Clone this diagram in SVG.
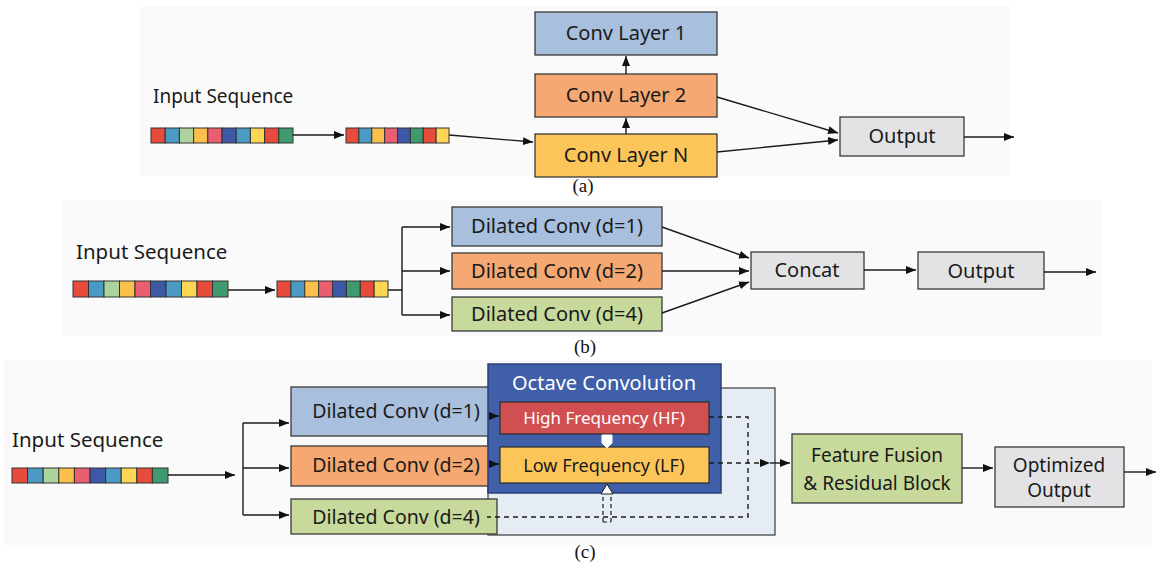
<svg xmlns="http://www.w3.org/2000/svg" width="1156" height="562" viewBox="0 0 1156 562">
  <defs>
    <marker id="arrow" viewBox="0 0 10 8" refX="10" refY="4" markerWidth="10" markerHeight="8" markerUnits="userSpaceOnUse" orient="auto">
      <path d="M0,0 L10,4 L0,8 Z" fill="#111"/>
    </marker>
    <style>
      .box { stroke: #3a3a3a; stroke-width: 1.3; }
      .blue { fill: #a8bfdd; }
      .orange { fill: #f5a872; }
      .yellow { fill: #fcc55a; }
      .green { fill: #c7d99b; }
      .grey { fill: #e3e3e6; }
      .label { font-family: "Noto Sans", "Open Sans", sans-serif; fill: #1a1a1a; text-anchor: middle; }
      .title { font-family: "Noto Sans", "Open Sans", sans-serif; fill: #1a1a1a; }
      .cap { font-family: "Liberation Serif", serif; font-size: 19px; fill: #111; text-anchor: middle; }
      .link { fill: none; stroke: #1a1a1a; stroke-width: 1.4; }
      .dash { fill: none; stroke: #1a1a1a; stroke-width: 1.4; stroke-dasharray: 5 4; }
      .seq rect { stroke: #333; stroke-width: 1; }
      .c1 { fill: #e64b3c; } .c2 { fill: #4a9ac4; } .c3 { fill: #acd49c; } .c4 { fill: #fbbf4b; }
      .c5 { fill: #ea5f6f; } .c6 { fill: #3d59a5; } .c7 { fill: #fdd653; } .c8 { fill: #3f9b6f; }
      .panel { fill: #fafafa; }
    </style>
  </defs>

  <rect width="1156" height="562" fill="#ffffff"/>
  <rect class="panel" x="140" y="6" width="870" height="170"/>
  <rect class="panel" x="62" y="200" width="1040" height="136"/>
  <rect class="panel" x="4" y="360" width="1148" height="185"/>

  <!-- ===== (a) stacked convolution ===== -->
  <g id="a-input">
    <text class="title" x="153" y="103" font-size="19">Input Sequence</text>
    <g class="seq">
      <rect class="c1" x="151" y="128" width="14.2" height="15"/>
      <rect class="c2" x="165.2" y="128" width="14.2" height="15"/>
      <rect class="c3" x="179.4" y="128" width="14.2" height="15"/>
      <rect class="c4" x="193.6" y="128" width="14.2" height="15"/>
      <rect class="c5" x="207.8" y="128" width="14.2" height="15"/>
      <rect class="c6" x="222" y="128" width="14.2" height="15"/>
      <rect class="c2" x="236.2" y="128" width="14.2" height="15"/>
      <rect class="c7" x="250.4" y="128" width="14.2" height="15"/>
      <rect class="c1" x="264.6" y="128" width="14.2" height="15"/>
      <rect class="c8" x="278.8" y="128" width="14.2" height="15"/>
    </g>
  </g>
  <g id="a-padded" class="seq">
    <rect class="c1" x="346" y="128" width="12.875" height="15"/>
    <rect class="c2" x="358.875" y="128" width="12.875" height="15"/>
    <rect class="c4" x="371.75" y="128" width="12.875" height="15"/>
    <rect class="c5" x="384.625" y="128" width="12.875" height="15"/>
    <rect class="c6" x="397.5" y="128" width="12.875" height="15"/>
    <rect class="c8" x="410.375" y="128" width="12.875" height="15"/>
    <rect class="c1" x="423.25" y="128" width="12.875" height="15"/>
    <rect class="c7" x="436.125" y="128" width="12.875" height="15"/>
  </g>
  <g id="a-conv1">
    <rect class="box blue" x="535" y="12" width="182" height="43"/>
    <text class="label" x="626" y="40" font-size="20">Conv Layer 1</text>
  </g>
  <g id="a-conv2">
    <rect class="box orange" x="535" y="74" width="182" height="43"/>
    <text class="label" x="626" y="102" font-size="20">Conv Layer 2</text>
  </g>
  <g id="a-convN">
    <rect class="box yellow" x="535" y="134" width="182" height="43"/>
    <text class="label" x="626" y="162" font-size="20">Conv Layer N</text>
  </g>
  <g id="a-output">
    <rect class="box grey" x="840" y="117" width="124" height="39"/>
    <text class="label" x="902" y="143" font-size="20">Output</text>
  </g>

  <!-- ===== (b) parallel dilated convolution ===== -->
  <g id="b-input">
    <text class="title" x="76" y="259" font-size="20.5">Input Sequence</text>
    <g class="seq">
      <rect class="c1" x="73" y="281" width="15.5" height="16"/>
      <rect class="c2" x="88.5" y="281" width="15.5" height="16"/>
      <rect class="c3" x="104" y="281" width="15.5" height="16"/>
      <rect class="c4" x="119.5" y="281" width="15.5" height="16"/>
      <rect class="c5" x="135" y="281" width="15.5" height="16"/>
      <rect class="c6" x="150.5" y="281" width="15.5" height="16"/>
      <rect class="c2" x="166" y="281" width="15.5" height="16"/>
      <rect class="c7" x="181.5" y="281" width="15.5" height="16"/>
      <rect class="c1" x="197" y="281" width="15.5" height="16"/>
      <rect class="c8" x="212.5" y="281" width="15.5" height="16"/>
    </g>
  </g>
  <g id="b-padded" class="seq">
    <rect class="c1" x="277" y="281" width="13.875" height="16"/>
    <rect class="c2" x="290.875" y="281" width="13.875" height="16"/>
    <rect class="c4" x="304.75" y="281" width="13.875" height="16"/>
    <rect class="c5" x="318.625" y="281" width="13.875" height="16"/>
    <rect class="c6" x="332.5" y="281" width="13.875" height="16"/>
    <rect class="c8" x="346.375" y="281" width="13.875" height="16"/>
    <rect class="c1" x="360.25" y="281" width="13.875" height="16"/>
    <rect class="c7" x="374.125" y="281" width="13.875" height="16"/>
  </g>
  <g id="b-d1">
    <rect class="box blue" x="452" y="207" width="210" height="39"/>
    <text class="label" x="557" y="233" font-size="20">Dilated Conv (d=1)</text>
  </g>
  <g id="b-d2">
    <rect class="box orange" x="452" y="253" width="210" height="36"/>
    <text class="label" x="557" y="278" font-size="20">Dilated Conv (d=2)</text>
  </g>
  <g id="b-d4">
    <rect class="box green" x="452" y="297" width="210" height="34"/>
    <text class="label" x="557" y="321" font-size="20">Dilated Conv (d=4)</text>
  </g>
  <g id="b-concat">
    <rect class="box grey" x="751" y="252" width="113" height="37"/>
    <text class="label" x="807" y="277" font-size="20">Concat</text>
  </g>
  <g id="b-output">
    <rect class="box grey" x="918" y="252" width="126" height="37"/>
    <text class="label" x="981" y="278" font-size="20">Output</text>
  </g>

  <!-- ===== (c) dilated + octave convolution ===== -->
  <g id="c-input">
    <text class="title" x="12" y="447" font-size="20.5">Input Sequence</text>
    <g class="seq">
      <rect class="c1" x="12" y="468" width="15.6" height="15"/>
      <rect class="c2" x="27.6" y="468" width="15.6" height="15"/>
      <rect class="c3" x="43.2" y="468" width="15.6" height="15"/>
      <rect class="c4" x="58.8" y="468" width="15.6" height="15"/>
      <rect class="c5" x="74.4" y="468" width="15.6" height="15"/>
      <rect class="c6" x="90" y="468" width="15.6" height="15"/>
      <rect class="c2" x="105.6" y="468" width="15.6" height="15"/>
      <rect class="c7" x="121.2" y="468" width="15.6" height="15"/>
      <rect class="c1" x="136.8" y="468" width="15.6" height="15"/>
      <rect class="c8" x="152.4" y="468" width="15.6" height="15"/>
    </g>
  </g>
  <g id="c-panel">
    <rect x="488" y="388" width="287" height="147" fill="#e6ecf3" stroke="#3a3a3a" stroke-width="1.2"/>
  </g>
  <g id="c-d1">
    <rect class="box blue" x="291" y="387" width="200" height="49"/>
    <text class="label" x="396" y="418" font-size="19.5">Dilated Conv (d=1)</text>
  </g>
  <g id="c-d2">
    <rect class="box orange" x="291" y="446" width="200" height="40"/>
    <text class="label" x="396" y="472" font-size="19.5">Dilated Conv (d=2)</text>
  </g>
  <g id="c-d4">
    <rect class="box green" x="291" y="499" width="206" height="35"/>
    <text class="label" x="396" y="524" font-size="19.5">Dilated Conv (d=4)</text>
  </g>
  <g id="c-octave">
    <rect x="488" y="364" width="233" height="129" fill="#3f5fa9" stroke="#2b3f78" stroke-width="1.5"/>
    <text x="604" y="390" font-family="Noto Sans, Open Sans, sans-serif" font-size="20" fill="#ffffff" text-anchor="middle">Octave Convolution</text>
  </g>
  <g id="c-hf">
    <rect x="500" y="402" width="209" height="32" fill="#d14f50" stroke="#2b2b2b" stroke-width="1.2"/>
    <text x="604" y="424" font-family="Noto Sans, Open Sans, sans-serif" font-size="17" fill="#ffffff" text-anchor="middle">High Frequency (HF)</text>
  </g>
  <g id="c-lf">
    <rect x="500" y="447" width="209" height="36" fill="#fcc55a" stroke="#2b2b2b" stroke-width="1.2"/>
    <text class="label" x="604" y="472" font-size="18">Low Frequency (LF)</text>
  </g>
  <g id="c-fusion">
    <rect class="box green" x="792" y="434" width="170" height="69"/>
    <text class="label" x="877" y="462" font-size="19">Feature Fusion</text>
    <text class="label" x="877" y="490" font-size="19">&amp; Residual Block</text>
  </g>
  <g id="c-output">
    <rect class="box grey" x="995" y="447" width="129" height="60"/>
    <text class="label" x="1059" y="472" font-size="19">Optimized</text>
    <text class="label" x="1059" y="497" font-size="19">Output</text>
  </g>

  <!-- ===== connectors ===== -->
  <g id="connectors">
    <!-- (a) -->
    <path class="link" d="M293,135 L344,135" marker-end="url(#arrow)"/>
    <path class="link" d="M449,135 L533,142" marker-end="url(#arrow)"/>
    <path class="link" d="M626,134 L626,118" marker-end="url(#arrow)"/>
    <path class="link" d="M626,74 L626,56" marker-end="url(#arrow)"/>
    <path class="link" d="M717,97 L838,133" marker-end="url(#arrow)"/>
    <path class="link" d="M717,152 L838,140" marker-end="url(#arrow)"/>
    <path class="link" d="M964,137 L1014,137" marker-end="url(#arrow)"/>
    <!-- (b) -->
    <path class="link" d="M228,290 L275,290" marker-end="url(#arrow)"/>
    <path class="link" d="M388,290 L402,290 M402,227 L402,315"/>
    <path class="link" d="M402,227 L450,227" marker-end="url(#arrow)"/>
    <path class="link" d="M402,271 L450,271" marker-end="url(#arrow)"/>
    <path class="link" d="M402,315 L450,315" marker-end="url(#arrow)"/>
    <path class="link" d="M662,227 L749,258" marker-end="url(#arrow)"/>
    <path class="link" d="M662,271 L749,271" marker-end="url(#arrow)"/>
    <path class="link" d="M662,313 L749,282" marker-end="url(#arrow)"/>
    <path class="link" d="M864,270 L916,270" marker-end="url(#arrow)"/>
    <path class="link" d="M1044,272 L1096,272" marker-end="url(#arrow)"/>
    <!-- (c) -->
    <path class="link" d="M168,475 L235,475" marker-end="url(#arrow)"/>
    <path class="link" d="M243,423 L243,515"/>
    <path class="link" d="M243,423 L289,423" marker-end="url(#arrow)"/>
    <path class="link" d="M243,468 L289,468" marker-end="url(#arrow)"/>
    <path class="link" d="M243,515 L289,515" marker-end="url(#arrow)"/>
    <path class="link" d="M489,416 L499,416" marker-end="url(#arrow)"/>
    <path class="link" d="M489,464 L499,464" marker-end="url(#arrow)"/>
    <!-- octave internal exchange -->
    <path d="M602,435 L612,435 L612,443 L607,448 L602,443 Z" fill="#ffffff" stroke="#ffffff" stroke-width="1"/>
    <path d="M603,522 L603,493 M611,522 L611,493 M603,522 L611,522" fill="none" stroke="#1a1a1a" stroke-width="1.2" stroke-dasharray="4 3"/>
    <path d="M601,494 L607,484 L613,494 Z" fill="#ffffff" stroke="#1a1a1a" stroke-width="1"/>
    <!-- dashed routes into fusion -->
    <path class="dash" d="M709,417 L748,417 L748,517 L487,517"/>
    <path class="dash" d="M709,463 L770,463" marker-end="url(#arrow)"/>
    <path class="link" d="M770,463 L790,463" marker-end="url(#arrow)"/>
    <path class="link" d="M962,468 L993,468" marker-end="url(#arrow)"/>
    <path class="link" d="M1124,472 L1156,472" marker-end="url(#arrow)"/>
  </g>

  <!-- captions -->
  <text class="cap" x="583" y="192">(a)</text>
  <text class="cap" x="585" y="353">(b)</text>
  <text class="cap" x="585" y="558">(c)</text>
</svg>
